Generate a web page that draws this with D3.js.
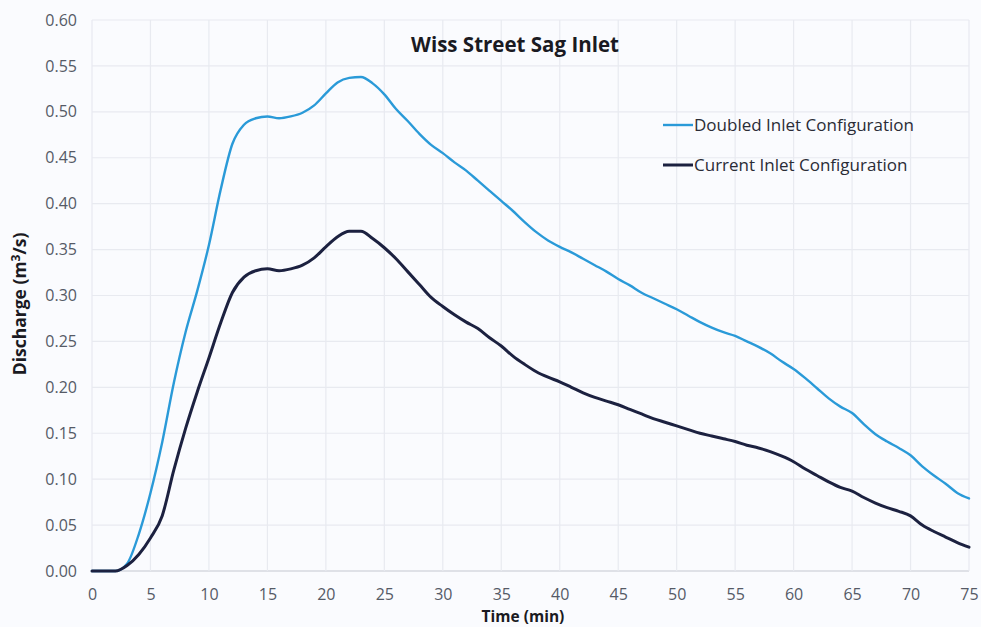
<!DOCTYPE html>
<html><head><meta charset="utf-8">
<script src="https://cdn.jsdelivr.net/npm/d3@7/dist/d3.min.js"></script>
<style>
html,body{margin:0;padding:0;background:#fafbfe;}
svg{display:block;}
</style></head><body>
<svg id="chart" width="981" height="627"></svg>
<script>
const times = d3.range(0, 76);
const doubledInlet = [0,0,0,0.008,0.04,0.085,0.14,0.205,0.26,0.305,0.355,0.415,0.465,0.486,0.493,0.495,0.493,0.495,0.499,0.507,0.52,0.532,0.537,0.538,0.531,0.519,0.503,0.49,0.476,0.464,0.455,0.445,0.436,0.425,0.414,0.403,0.392,0.38,0.369,0.36,0.353,0.347,0.34,0.333,0.326,0.318,0.311,0.303,0.297,0.291,0.285,0.278,0.271,0.265,0.26,0.256,0.25,0.244,0.237,0.228,0.22,0.21,0.199,0.188,0.179,0.172,0.16,0.149,0.141,0.134,0.126,0.114,0.104,0.095,0.085,0.079];
const currentInlet = [0,0,0,0.006,0.018,0.036,0.06,0.11,0.155,0.195,0.232,0.27,0.303,0.32,0.327,0.329,0.327,0.329,0.333,0.341,0.353,0.364,0.37,0.37,0.362,0.352,0.34,0.326,0.312,0.298,0.288,0.279,0.271,0.264,0.254,0.245,0.234,0.225,0.217,0.211,0.206,0.2,0.194,0.189,0.185,0.181,0.176,0.171,0.166,0.162,0.158,0.154,0.15,0.147,0.144,0.141,0.137,0.134,0.13,0.125,0.119,0.111,0.104,0.097,0.091,0.087,0.08,0.074,0.069,0.065,0.06,0.05,0.043,0.037,0.031,0.026];
const xTicks = d3.range(0, 80, 5);
const yTicks = d3.range(0, 0.601, 0.05);
const seriesNames = ["Doubled Inlet Configuration", "Current Inlet Configuration"];
const seriesColors = ["#2a9ad8", "#1c2140"];
const seriesWidths = [2.4, 3];
const titleText = "Wiss Street Sag Inlet";

const svg = d3.select("#chart");
const x = d3.scaleLinear().domain([0, 75]).range([92, 969]);
const y = d3.scaleLinear().domain([0, 0.6]).range([571, 20]);
const font = "'Open Sans', sans-serif";

svg.append("g").selectAll("line.h").data(yTicks).join("line")
  .attr("x1", x(0)).attr("x2", x(75)).attr("y1", d => y(d)).attr("y2", d => y(d))
  .attr("stroke", d => d === 0 ? "#d6d8df" : "#e8eaf0").attr("stroke-width", d => d === 0 ? 1.5 : 1.2);
svg.append("g").selectAll("line.v").data(xTicks).join("line")
  .attr("x1", d => x(d)).attr("x2", d => x(d)).attr("y1", y(0)).attr("y2", y(0.6))
  .attr("stroke", "#e8eaf0").attr("stroke-width", 1.2);

const yAxis = d3.axisLeft(y).tickValues(yTicks).tickFormat(d3.format(".2f")).tickSize(0).tickPadding(15);
const gy = svg.append("g").attr("transform", `translate(${x(0)},0)`).call(yAxis);
gy.select(".domain").remove();
gy.selectAll("text").attr("font-family", font).attr("font-size", 16).attr("fill", "#555a66");

const xAxis = d3.axisBottom(x).tickValues(xTicks).tickFormat(d3.format("d")).tickSize(0).tickPadding(18);
const gx = svg.append("g").attr("transform", `translate(0,${y(0)})`).call(xAxis);
gx.select(".domain").remove();
gx.selectAll("text").attr("font-family", font).attr("font-size", 16).attr("fill", "#555a66");

const series = [doubledInlet, currentInlet];
const line = d3.line().x((d, i) => x(times[i])).y(d => y(d)).curve(d3.curveMonotoneX);
series.forEach((s, k) => {
  svg.append("path").datum(s).attr("d", line).attr("fill", "none")
    .attr("stroke", seriesColors[k]).attr("stroke-width", seriesWidths[k])
    .attr("stroke-linejoin", "round").attr("stroke-linecap", "round");
});

svg.append("text").attr("x", 515).attr("y", 52).attr("text-anchor", "middle")
  .attr("font-family", font).attr("font-weight", "bold").attr("font-size", 20.5)
  .attr("fill", "#1a1a22").text(titleText);

svg.append("text").attr("x", 523).attr("y", 622).attr("text-anchor", "middle")
  .attr("font-family", font).attr("font-weight", "bold").attr("font-size", 15.5)
  .attr("fill", "#1a1a22").text("Time (min)");
svg.append("text").attr("transform", "translate(26,304) rotate(-90)").attr("text-anchor", "middle")
  .attr("font-family", font).attr("font-weight", "bold").attr("font-size", 17.5)
  .attr("fill", "#1a1a22")
  .html('Discharge (m<tspan dy="-6" font-size="12">3</tspan><tspan dy="6">/s)</tspan>');

const legY = [125, 165];
seriesNames.forEach((n, k) => {
  svg.append("line").attr("x1", 663).attr("x2", 693).attr("y1", legY[k]).attr("y2", legY[k])
    .attr("stroke", seriesColors[k]).attr("stroke-width", seriesWidths[k]);
  svg.append("text").attr("x", 694).attr("y", legY[k] + 6).attr("font-family", font)
    .attr("font-size", 17).attr("fill", "#2a2c36").text(n);
});
</script>
</body></html>
